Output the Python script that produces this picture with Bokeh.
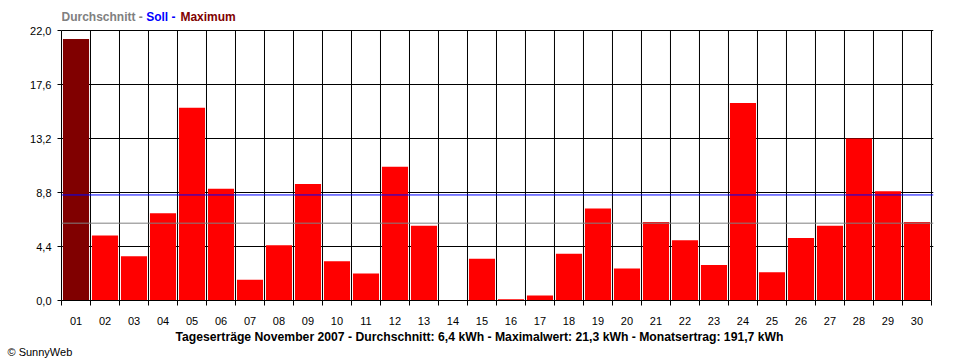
from bokeh.plotting import figure
from bokeh.models import FixedTicker, CustomJSTickFormatter, Span, Label, Range1d, ColumnDataSource, Title
from bokeh.embed import file_html
from bokeh.resources import INLINE

# ---- data ----
days = ["%02d" % d for d in range(1, 31)]
yields_kwh = [21.3, 5.3, 3.6, 7.1, 15.7, 9.1, 1.7, 4.5, 9.5, 3.2,
              2.2, 10.9, 6.1, 0.0, 3.4, 0.1, 0.4, 3.8, 7.5, 2.6,
              6.4, 4.9, 2.9, 16.1, 2.3, 5.1, 6.1, 13.2, 8.9, 6.4]
average_kwh = 6.3
target_kwh = 8.6
y_ticks = [0.0, 4.4, 8.8, 13.2, 17.6, 22.0]
title_text = "Tageserträge November 2007 - Durchschnitt: 6,4 kWh - Maximalwert: 21,3 kWh - Monatsertrag: 191,7 kWh"
legend_parts = ["Durchschnitt -", "Soll -", "Maximum"]
legend_colors = ["#808080", "#0000ff", "#800000"]
credit_text = "© SunnyWeb"

n = len(days)
xs = list(range(1, n + 1))
boundaries = [i + 0.5 for i in range(0, n + 1)]
y_top = y_ticks[-1]
max_val = max(yields_kwh)
colors = ["#800000" if v == max_val else "#ff0000" for v in yields_kwh]
source = ColumnDataSource(dict(x=xs, top=yields_kwh, color=colors))

# frame extends a little above the plot box so the legend line above it can be drawn
top_pad = 296 / 270.0
p = figure(width=960, height=360, output_backend="svg", toolbar_location=None,
           x_range=Range1d(0.5, n + 0.5 + 0.07), y_range=Range1d(y_ticks[0], y_top * top_pad),
           min_border_left=61, min_border_right=27, min_border_top=4, min_border_bottom=60)
p.title.visible = False
p.background_fill_color = "white"
p.border_fill_color = "white"
p.outline_line_color = None

# vertical separators between days, limited to the plot box
p.xgrid.visible = False
p.segment(x0=boundaries, y0=[y_ticks[0]] * len(boundaries), x1=boundaries,
          y1=[y_top] * len(boundaries), line_color="black", line_width=1)

p.vbar(x="x", top="top", width=0.9, bottom=0, color="color", line_color=None, source=source)

# horizontal grid
p.ygrid.ticker = FixedTicker(ticks=y_ticks)
p.ygrid.grid_line_color = "black"
p.ygrid.grid_line_width = 1
p.ygrid.grid_line_alpha = 1.0
p.ygrid.bounds = (0.5, n + 0.5)

# x axis
xa = p.xaxis[0]
xa.ticker = FixedTicker(ticks=xs, minor_ticks=boundaries)
xa.formatter = CustomJSTickFormatter(args=dict(labels=days),
                                     code="return labels[Math.round(tick) - 1];")
xa.bounds = (0.5, n + 0.5)
xa.major_tick_out = 0
xa.major_tick_in = 0
xa.minor_tick_out = 5
xa.minor_tick_in = 0
xa.minor_tick_line_color = "black"
xa.axis_line_color = "black"
xa.major_label_standoff = 11
xa.major_label_text_font = "Liberation Sans"
xa.major_label_text_font_size = "11px"
xa.major_label_text_color = "black"

# y axis
ya = p.yaxis[0]
ya.ticker = FixedTicker(ticks=y_ticks)
ya.bounds = (y_ticks[0], y_top)
ya.formatter = CustomJSTickFormatter(code="return tick.toFixed(1).replace('.', ',');")
ya.major_tick_out = 4
ya.major_tick_in = 0
ya.minor_tick_out = 0
ya.minor_tick_in = 0
ya.axis_line_color = "black"
ya.major_tick_line_color = "black"
ya.major_label_standoff = 6
ya.major_label_text_font = "Liberation Sans"
ya.major_label_text_font_size = "11px"
ya.major_label_text_color = "black"

# average and target lines
p.add_layout(Span(location=average_kwh, dimension="width", line_color="#808080", line_width=1))
p.add_layout(Span(location=target_kwh, dimension="width", line_color="#0000ff", line_width=1))

# legend texts at top
common = dict(text_font="Liberation Sans", text_font_size="12px", text_font_style="bold",
              text_baseline="middle", text_align="left")
legend_x = [0.5, 3.42, 4.60]
for txt, col, lx in zip(legend_parts, legend_colors, legend_x):
    p.add_layout(Label(x=lx, y=23.1, text=txt, text_color=col, **common))

# bottom title and credit
p.add_layout(Title(text=title_text, align="left", offset=114, text_font="Liberation Sans",
                   text_font_size="12.2px", text_font_style="bold", text_color="black",
                   standoff=0), "below")
p.add_layout(Title(text=credit_text, align="left", offset=-54, text_font="Liberation Sans",
                   text_font_size="11px", text_font_style="normal", text_color="black",
                   standoff=0), "below")

open("out.html", "w").write(file_html(p, INLINE))
